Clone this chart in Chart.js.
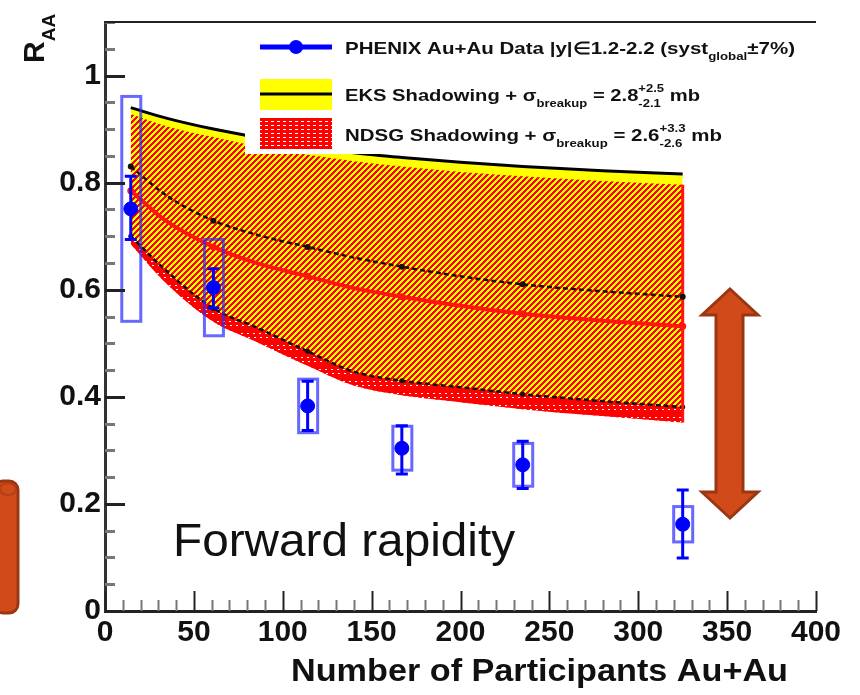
<!DOCTYPE html>
<html>
<head>
<meta charset="utf-8">
<script src="https://cdn.jsdelivr.net/npm/chart.js@4.4.1/dist/chart.umd.min.js"></script>
<style>
  html, body { margin: 0; padding: 0; background: #fff; }
  #wrap { width: 860px; height: 695px; }
</style>
</head>
<body>
<div id="wrap"><canvas id="raaChart" width="860" height="695"></canvas></div>
<script>
// PHENIX Au+Au, forward rapidity
const npart = [14.5, 61, 114, 167, 235, 325];
const raa = [0.751, 0.604, 0.383, 0.304, 0.273, 0.162];
const statUp = [0.061, 0.035, 0.046, 0.042, 0.044, 0.064];
const statDown = [0.057, 0.038, 0.046, 0.048, 0.044, 0.063];
const systErr = [0.21, 0.09, 0.05, 0.041, 0.04, 0.033];

// shadowing + breakup bands
const curveN = [14.5, 35, 61, 85, 114, 140, 167, 200, 235, 280, 325];
const eksUpper = [0.940, 0.920, 0.900, 0.885, 0.868, 0.856, 0.847, 0.838, 0.830, 0.822, 0.816];
const eksMid = [0.830, 0.775, 0.729, 0.703, 0.680, 0.660, 0.643, 0.625, 0.610, 0.597, 0.587];
const eksLower = [0.700, 0.634, 0.565, 0.530, 0.485, 0.447, 0.430, 0.418, 0.405, 0.392, 0.381];
const ndsgUpper = [0.928, 0.905, 0.885, 0.868, 0.852, 0.840, 0.830, 0.820, 0.812, 0.803, 0.796];
const ndsgMid = [0.785, 0.727, 0.680, 0.650, 0.625, 0.603, 0.587, 0.570, 0.555, 0.542, 0.532];
const ndsgLower = [0.685, 0.610, 0.540, 0.503, 0.458, 0.421, 0.403, 0.390, 0.377, 0.364, 0.352];

const xTicks = [0, 50, 100, 150, 200, 250, 300, 350, 400];
const yTicks = [0, 0.2, 0.4, 0.6, 0.8, 1];
const yTickLabels = ['0', '0.2', '0.4', '0.6', '0.8', '1'];

const FONT = '"Liberation Sans", Arial, Helvetica, sans-serif';

const pts = (ys) => curveN.map((n, i) => ({ x: n, y: ys[i] }));
const onData = (c) => (c.raw && npart.includes(c.raw.x) ? 1 : 0);

// fill patterns
function makePattern(w, h, fn) {
    const c = document.createElement('canvas');
    c.width = w; c.height = h;
    const g = c.getContext('2d');
    const img = g.createImageData(w, h);
    for (let y = 0; y < h; y++) {
        for (let x = 0; x < w; x++) {
            const col = fn(x, y);
            if (!col) continue;
            const k = (y * w + x) * 4;
            img.data[k] = col[0]; img.data[k + 1] = col[1]; img.data[k + 2] = col[2]; img.data[k + 3] = 255;
        }
    }
    g.putImageData(img, 0, 0);
    return g.createPattern(c, 'repeat');
}
const redStripes = makePattern(6, 6, (x, y) => ((x + y) % 6 < 3 ? [255, 0, 0] : null));
const redDots = makePattern(6, 4, (x, y) => (y % 4 === 1 && x % 6 > 0 && x % 6 < 4 ? [255, 255, 255] : [255, 0, 0]));

function runsWidth(ctx, runs) {
    let w = 0;
    runs.forEach(r => {
        if (r.sup !== undefined) {
            ctx.font = 'bold 11px ' + FONT;
            w += Math.max(ctx.measureText(r.sup).width, ctx.measureText(r.sub).width);
        } else {
            ctx.font = 'bold ' + (r.size || 17) + 'px ' + FONT;
            w += ctx.measureText(r.t).width;
        }
    });
    return w;
}

function drawRuns(ctx, runs, x, y, target) {
    const sx = target / runsWidth(ctx, runs);
    ctx.save();
    ctx.translate(x, y);
    ctx.scale(sx, 1);
    ctx.fillStyle = '#111';
    ctx.textBaseline = 'alphabetic';
    ctx.textAlign = 'left';
    let cx = 0;
    runs.forEach(r => {
        if (r.sup !== undefined) {
            ctx.font = 'bold 11px ' + FONT;
            ctx.fillText(r.sup, cx, -9);
            ctx.fillText(r.sub, cx, 6);
            cx += Math.max(ctx.measureText(r.sup).width, ctx.measureText(r.sub).width);
        } else {
            ctx.font = 'bold ' + (r.size || 17) + 'px ' + FONT;
            ctx.fillText(r.t, cx, r.dy || 0);
            cx += ctx.measureText(r.t).width;
        }
    });
    ctx.restore();
}

const decor = {
    id: 'decor',
    afterDatasetsDraw(chart) {
        const { ctx, scales: { x, y } } = chart;
        ctx.save();
        // syst boxes and stat error bars
        npart.forEach((n, i) => {
            const px = x.getPixelForValue(n);
            const bt = y.getPixelForValue(raa[i] + systErr[i]);
            const bb = y.getPixelForValue(raa[i] - systErr[i]);
            ctx.strokeStyle = 'rgba(40,40,255,0.7)';
            ctx.lineWidth = 3;
            ctx.strokeRect(px - 9, bt, 19, bb - bt);
            const et = y.getPixelForValue(raa[i] + statUp[i]);
            const eb = y.getPixelForValue(raa[i] - statDown[i]);
            ctx.strokeStyle = '#0000ff';
            ctx.lineWidth = 3;
            ctx.beginPath();
            ctx.moveTo(px, et); ctx.lineTo(px, eb);
            ctx.moveTo(px - 6, et); ctx.lineTo(px + 6, et);
            ctx.moveTo(px - 6, eb); ctx.lineTo(px + 6, eb);
            ctx.stroke();
        });

        // legend
        ctx.fillStyle = '#fff';
        ctx.fillRect(245, 24, 570, 130);
        ctx.strokeStyle = '#0000ff';
        ctx.lineWidth = 5;
        ctx.beginPath(); ctx.moveTo(260, 47); ctx.lineTo(332, 47); ctx.stroke();
        ctx.fillStyle = '#0000ff';
        ctx.beginPath(); ctx.arc(296, 47, 7, 0, Math.PI * 2); ctx.fill();
        ctx.fillStyle = '#ffff00';
        ctx.fillRect(260, 79, 72, 31);
        ctx.strokeStyle = '#000';
        ctx.lineWidth = 3;
        ctx.beginPath(); ctx.moveTo(260, 94); ctx.lineTo(332, 94); ctx.stroke();
        ctx.fillStyle = redDots;
        ctx.fillRect(260, 118, 72, 31);

        drawRuns(ctx, [
            { t: 'PHENIX Au+Au Data |y|\u22081.2-2.2 (syst' },
            { t: 'global', size: 11, dy: 6 },
            { t: '\u00B17%)' }
        ], 345, 54, 450);
        drawRuns(ctx, [
            { t: 'EKS Shadowing + \u03C3' },
            { t: 'breakup', size: 11, dy: 6 },
            { t: ' = 2.8' },
            { sup: '+2.5', sub: '-2.1' },
            { t: ' mb' }
        ], 345, 101, 355);
        drawRuns(ctx, [
            { t: 'NDSG Shadowing + \u03C3' },
            { t: 'breakup', size: 11, dy: 6 },
            { t: ' = 2.6' },
            { sup: '+3.3', sub: '-2.6' },
            { t: ' mb' }
        ], 345, 141, 377);
        ctx.restore();
    },
    afterDraw(chart) {
        const { ctx, chartArea: a, scales: { x, y } } = chart;
        ctx.save();
        // inward ticks
        for (let v = 0; v <= 1.1001; v += 0.05) {
            const py = Math.round(y.getPixelForValue(v)) + 0.5;
            const major = Math.abs(v * 5 - Math.round(v * 5)) < 1e-6;
            ctx.strokeStyle = major ? '#222' : '#777';
            ctx.lineWidth = 3;
            ctx.beginPath(); ctx.moveTo(a.left, py); ctx.lineTo(a.left + (major ? 20 : 10), py); ctx.stroke();
        }
        for (let v = 0; v <= 400; v += 10) {
            const px = Math.round(x.getPixelForValue(v)) + 0.5;
            const major = v % 50 === 0;
            ctx.strokeStyle = major ? '#222' : '#777';
            ctx.lineWidth = 2;
            ctx.beginPath(); ctx.moveTo(px, a.bottom); ctx.lineTo(px, a.bottom - (major ? 20 : 11)); ctx.stroke();
        }
        // top frame
        ctx.strokeStyle = '#222';
        ctx.lineWidth = 2;
        ctx.beginPath(); ctx.moveTo(a.left, a.top); ctx.lineTo(a.right, a.top); ctx.stroke();

        // axis titles
        ctx.fillStyle = '#111';
        ctx.save();
        ctx.translate(44, 63);
        ctx.rotate(-Math.PI / 2);
        ctx.font = 'bold 30px ' + FONT;
        ctx.textAlign = 'left';
        ctx.fillText('R', 0, 0);
        const rw = ctx.measureText('R').width;
        ctx.font = 'bold 19px ' + FONT;
        ctx.fillText('AA', rw, 11);
        ctx.restore();

        ctx.save();
        ctx.font = 'bold 31px ' + FONT;
        const tw = ctx.measureText('Number of Participants Au+Au').width;
        ctx.translate(291, 681);
        ctx.scale(497 / tw, 1);
        ctx.textAlign = 'left';
        ctx.fillText('Number of Participants Au+Au', 0, 0);
        ctx.restore();

        // caption
        ctx.save();
        ctx.font = '46px ' + FONT;
        const fw = ctx.measureText('Forward rapidity').width;
        ctx.translate(173, 556);
        ctx.scale(342 / fw, 1);
        ctx.fillStyle = '#111';
        ctx.fillText('Forward rapidity', 0, 0);
        ctx.restore();

        // double arrow
        ctx.fillStyle = '#d14b1a';
        ctx.strokeStyle = '#9a3612';
        ctx.lineWidth = 3;
        ctx.lineJoin = 'miter';
        ctx.beginPath();
        ctx.moveTo(730, 289);
        ctx.lineTo(758, 315); ctx.lineTo(743, 315);
        ctx.lineTo(743, 492); ctx.lineTo(758, 492);
        ctx.lineTo(730, 518);
        ctx.lineTo(702, 492); ctx.lineTo(716, 492);
        ctx.lineTo(716, 315); ctx.lineTo(702, 315);
        ctx.closePath();
        ctx.fill(); ctx.stroke();

        // cylinder on the left edge
        ctx.beginPath();
        ctx.roundRect(-6, 481, 24, 132, 9);
        ctx.fill(); ctx.stroke();
        ctx.beginPath();
        ctx.ellipse(8, 489, 8, 6, 0, 0, Math.PI * 2);
        ctx.strokeStyle = '#b04015';
        ctx.lineWidth = 2;
        ctx.stroke();
        ctx.restore();
    }
};

new Chart(document.getElementById('raaChart'), {
    type: 'scatter',
    data: {
        datasets: [
            {
                label: 'PHENIX Au+Au',
                data: npart.map((n, i) => ({ x: n, y: raa[i] })),
                showLine: false,
                pointRadius: 7,
                pointBackgroundColor: '#0000ff',
                pointBorderColor: '#0000ff',
                order: 0
            },
            {
                label: 'NDSG lower',
                data: pts(ndsgLower),
                showLine: true,
                borderWidth: 0,
                borderColor: 'rgba(0,0,0,0)',
                pointRadius: 0,
                fill: false,
                order: 100
            },
            {
                label: 'NDSG band base',
                data: pts(ndsgUpper),
                showLine: true,
                borderWidth: 0,
                borderColor: 'rgba(0,0,0,0)',
                backgroundColor: redDots,
                pointRadius: 0,
                fill: { target: 1 },
                order: 95
            },
            {
                label: 'EKS lower',
                data: pts(eksLower),
                showLine: true,
                borderWidth: 2.5,
                borderColor: '#111',
                borderDash: [5, 3],
                pointRadius: (c) => 2.5 * onData(c),
                pointBackgroundColor: '#111',
                pointBorderWidth: 0,
                fill: false,
                order: 40
            },
            {
                label: 'EKS upper',
                data: pts(eksUpper),
                showLine: true,
                borderWidth: 3,
                borderColor: '#000',
                backgroundColor: '#ffff00',
                pointRadius: 0,
                fill: { target: 3 },
                order: 90
            },
            {
                label: 'NDSG hatch',
                data: pts(ndsgUpper),
                showLine: true,
                borderWidth: 0,
                borderColor: 'rgba(0,0,0,0)',
                backgroundColor: redStripes,
                pointRadius: 0,
                fill: { target: 1 },
                order: 80
            },
            {
                label: 'EKS central',
                data: pts(eksMid),
                showLine: true,
                borderWidth: 2.5,
                borderColor: '#111',
                borderDash: [5, 3],
                pointRadius: (c) => 3 * onData(c),
                pointBackgroundColor: '#111',
                pointBorderWidth: 0,
                fill: false,
                order: 30
            },
            {
                label: 'NDSG central',
                data: pts(ndsgMid),
                showLine: true,
                borderWidth: 4,
                borderColor: '#ff1414',
                pointRadius: (c) => 3.5 * onData(c),
                pointBackgroundColor: '#ff1414',
                pointBorderWidth: 0,
                fill: false,
                order: 30
            },
            {
                label: 'NDSG edge',
                data: [
                    { x: curveN[curveN.length - 1], y: ndsgLower[ndsgLower.length - 1] },
                    { x: curveN[curveN.length - 1], y: ndsgUpper[ndsgUpper.length - 1] }
                ],
                showLine: true,
                borderWidth: 3,
                borderColor: '#ff1414',
                pointRadius: 0,
                fill: false,
                order: 35
            }
        ]
    },
    options: {
        responsive: false,
        devicePixelRatio: 1,
        animation: false,
        layout: { padding: { left: 0, top: 14, right: 44, bottom: 0 } },
        elements: { line: { cubicInterpolationMode: 'monotone' } },
        plugins: {
            legend: { display: false },
            tooltip: { enabled: false }
        },
        scales: {
            x: {
                type: 'linear',
                min: 0,
                max: 400,
                afterFit: (s) => { s.height = 84; },
                afterBuildTicks: (s) => { s.ticks = xTicks.map(v => ({ value: v })); },
                ticks: {
                    font: { family: FONT, size: 30, weight: 'bold' },
                    color: '#111',
                    padding: 4,
                    maxRotation: 0,
                    autoSkip: false
                },
                grid: { display: false, drawTicks: false },
                border: { display: true, color: '#222', width: 3 }
            },
            y: {
                min: 0,
                max: 1.1,
                afterFit: (s) => { s.width = 105; },
                afterBuildTicks: (s) => { s.ticks = yTicks.map(v => ({ value: v })); },
                ticks: {
                    font: { family: FONT, size: 30, weight: 'bold' },
                    color: '#111',
                    padding: 4,
                    callback: (v, i) => yTickLabels[i]
                },
                grid: { display: false, drawTicks: false },
                border: { display: true, color: '#333', width: 3 }
            }
        }
    },
    plugins: [decor]
});
</script>
</body>
</html>
